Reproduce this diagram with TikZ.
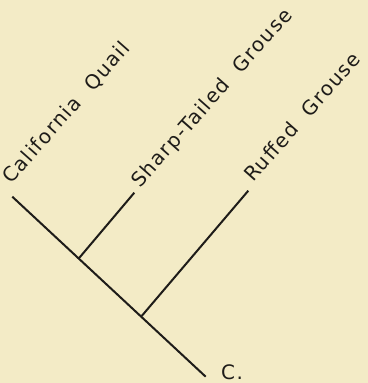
\documentclass[tikz,border=0pt]{standalone}
\usepackage{fontspec}
\setmainfont[LetterSpace=7.5]{DejaVu Sans}
\definecolor{paper}{RGB}{243,235,198}
\definecolor{ink}{RGB}{30,28,25}
\begin{document}
\begin{tikzpicture}[x=1bp,y=-1bp,
  branch/.style={draw=ink,line width=2bp,line cap=butt},
  taxon/.style={anchor=base west,rotate=48.5,inner sep=0pt,text=ink,font=\fontsize{20}{20}\selectfont}]
\fill[paper] (0,0) rectangle (368,383);
\useasboundingbox (0,0) rectangle (368,383);
\coordinate (q) at (12.3,196.7);
\coordinate (r) at (205.7,376.7);
\coordinate (n1) at (78.3,259);
\coordinate (n2) at (141.7,316);
\coordinate (s) at (134.3,192.7);
\coordinate (g) at (248.3,190.7);
\draw[branch] (q) -- (r);
\draw[branch] (n1) -- (s);
\draw[branch] (n2) -- (g);
\node[taxon] (lq) at (11,185) {California\ \ Quail};
\node[taxon] (ls) at (140,189) {Sharp-Tailed\ \ Grouse};
\node[taxon] (lg) at (253,183) {Ruffed\ \ Grouse};
\node[anchor=base west,inner sep=0pt,text=ink,font=\fontsize{20}{20}\selectfont] (lc) at (221,379) {C.};
\end{tikzpicture}
\end{document}
